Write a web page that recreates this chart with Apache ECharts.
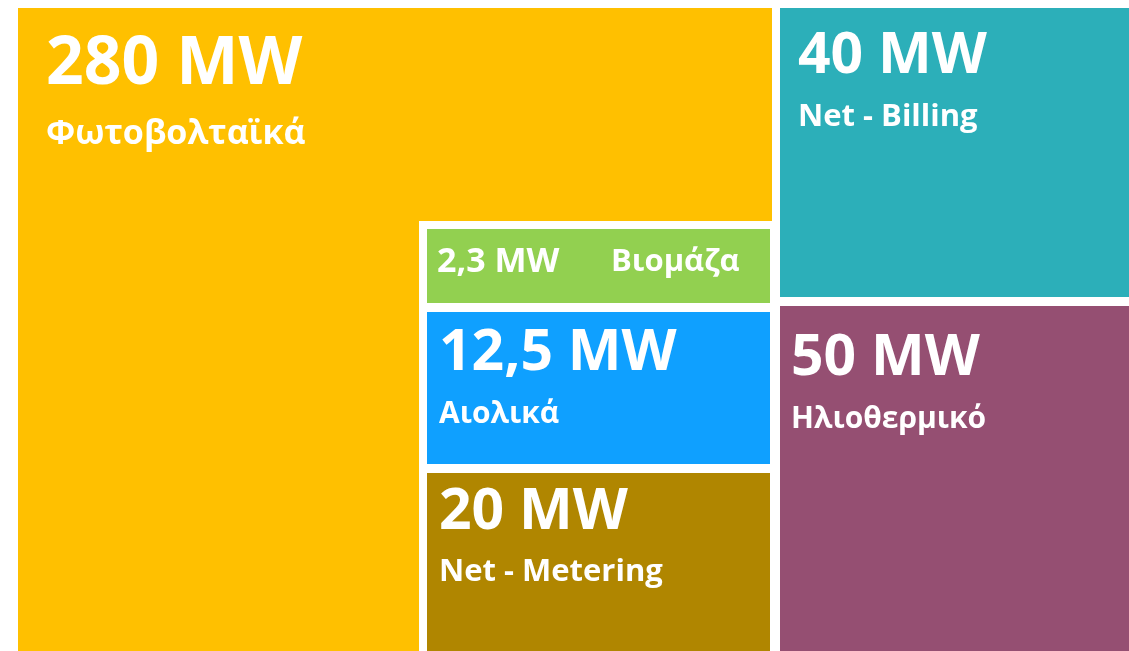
<!DOCTYPE html>
<html>
<head>
<meta charset="utf-8">
<script src="https://cdn.jsdelivr.net/npm/echarts@6/dist/echarts.min.js"></script>
<style>
  html, body { margin: 0; padding: 0; background: #ffffff; }
  #main { width: 1129px; height: 651px; }
</style>
</head>
<body>
<div id="main"></div>
<script>
// data
var names = ['Φωτοβολταϊκά', 'Net - Billing', 'Ηλιοθερμικό', 'Βιομάζα', 'Αιολικά', 'Net - Metering'];
var values = ['280', '40', '50', '2,3', '12,5', '20'];
var unit = 'MW';

// styles
var colors = ['#FFC000', '#2CAFB9', '#954F72', '#92D050', '#0FA0FF', '#B08600'];

// layout (axis units, same as page px); each cell is a polygon
var shapes = [
  [[18, 8], [772, 8], [772, 221], [419, 221], [419, 651], [18, 651]],
  [[780, 8], [1129, 8], [1129, 297], [780, 297]],
  [[780, 306], [1129, 306], [1129, 651], [780, 651]],
  [[427, 229], [770, 229], [770, 303], [427, 303]],
  [[427, 312], [770, 312], [770, 464], [427, 464]],
  [[427, 473], [770, 473], [770, 651], [427, 651]]
];
// label anchors: [x, value line y, name line y, value size, name size]
var labelPos = [
  [46, 65, 134, 66, 34],
  [798, 57, 117, 57, 31],
  [791, 359, 419, 57, 30],
  [437, 262, 262, 34, 31],
  [439, 354, 414, 57, 30],
  [439, 513, 572, 57, 31]
];
var nameX = [null, null, null, 611, null, null];

var chart = echarts.init(document.getElementById('main'), null, {renderer: 'canvas'});

var seriesData = names.map(function (n, i) {
  return {name: n, value: [i]};
});

var option = {
  animation: false,
  grid: {left: 0, right: 0, top: 0, bottom: 0},
  xAxis: {type: 'value', min: 0, max: 1129, show: false},
  yAxis: {type: 'value', min: 0, max: 651, inverse: true, show: false},
  series: [{
    type: 'custom',
    coordinateSystem: 'cartesian2d',
    data: seriesData,
    renderItem: function (params, api) {
      var i = api.value(0);
      var pts = shapes[i].map(function (p) { return api.coord(p); });
      var lp = labelPos[i];
      var a = api.coord([lp[0], lp[1]]);
      var b = api.coord([nameX[i] != null ? nameX[i] : lp[0], lp[2]]);
      var font = '"Open Sans", "DejaVu Sans", sans-serif';
      return {
        type: 'group',
        children: [{
          type: 'polygon',
          shape: {points: pts},
          style: {fill: colors[i]}
        }, {
          type: 'text',
          x: a[0], y: a[1],
          style: {
            text: values[i] + ' ' + unit,
            fill: '#fff',
            fontFamily: font,
            fontWeight: 'bold',
            fontSize: lp[3],
            verticalAlign: 'middle'
          }
        }, {
          type: 'text',
          x: b[0], y: b[1],
          style: {
            text: names[i],
            fill: '#fff',
            fontFamily: font,
            fontWeight: 'bold',
            fontSize: lp[4],
            verticalAlign: 'middle'
          }
        }]
      };
    }
  }]
};

chart.setOption(option);
</script>
</body>
</html>
